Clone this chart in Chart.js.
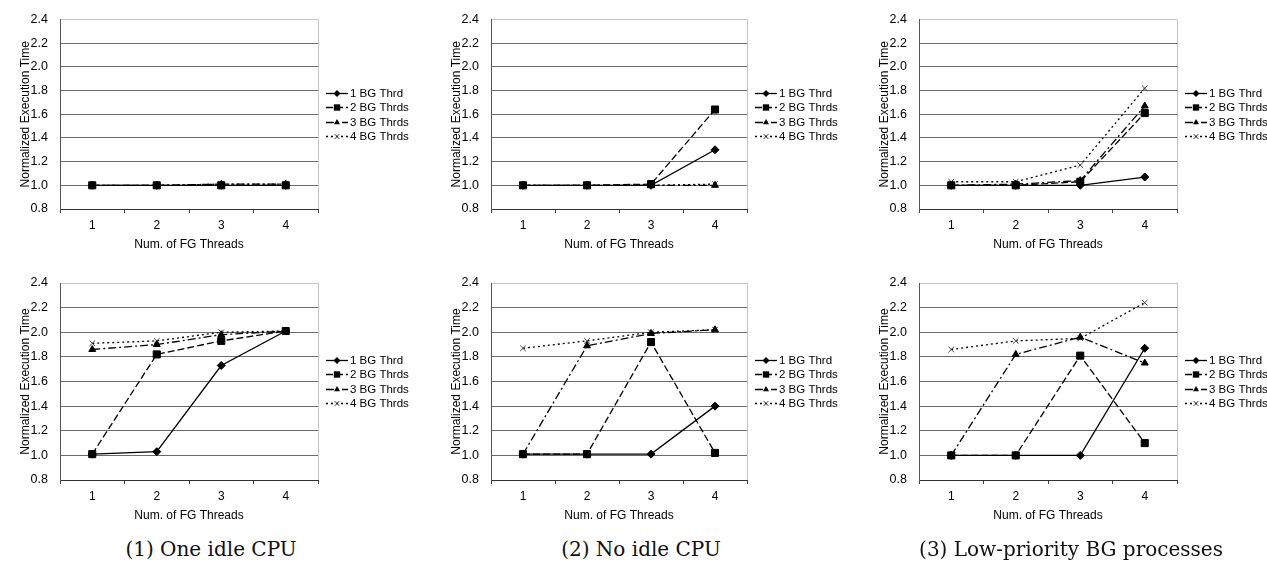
<!DOCTYPE html>
<html>
<head>
<meta charset="utf-8">
<script src="https://cdn.jsdelivr.net/npm/chart.js@4"></script>
<style>
  html, body { margin: 0; padding: 0; background: #fff; }
  body { width: 1267px; height: 565px; position: relative; overflow: hidden; }
  .box { position: absolute; width: 430px; }
  .cap { position: absolute; top: 537px; font-family: "DejaVu Serif", "Liberation Serif", serif;
         font-size: 20px; color: #111; white-space: nowrap; transform: translateX(-50%); }
</style>
</head>
<body>
<div class="box" style="left:0px;top:0px;height:255px"><canvas id="c1"></canvas></div>
<div class="box" style="left:431px;top:0px;height:255px"><canvas id="c2"></canvas></div>
<div class="box" style="left:859px;top:0px;height:255px"><canvas id="c3"></canvas></div>
<div class="box" style="left:0px;top:255px;height:275px"><canvas id="c4"></canvas></div>
<div class="box" style="left:431px;top:255px;height:275px"><canvas id="c5"></canvas></div>
<div class="box" style="left:859px;top:255px;height:275px"><canvas id="c6"></canvas></div>
<div class="cap" style="left:211px">(1) One idle CPU</div>
<div class="cap" style="left:641px">(2) No idle CPU</div>
<div class="cap" style="left:1071px">(3) Low-priority BG processes</div>
<script>
// x軸とy軸
const fgThreads = ['1', '2', '3', '4'];
const bgLabels = ['1 BG Thrd', '2 BG Thrds', '3 BG Thrds', '4 BG Thrds'];
const yMin = 0.8, yMax = 2.4, yStep = 0.2;

// 上段
const oneIdleTop = [
  [1.00, 1.00, 1.00, 1.00],
  [1.00, 1.00, 1.00, 1.00],
  [1.00, 1.00, 1.01, 1.01],
  [1.00, 1.00, 1.01, 1.01]
];
const noIdleTop = [
  [1.00, 1.00, 1.00, 1.30],
  [1.00, 1.00, 1.01, 1.64],
  [1.00, 1.00, 1.00, 1.00],
  [1.00, 1.00, 1.00, 1.01]
];
const lowPrioTop = [
  [1.00, 1.00, 1.00, 1.07],
  [1.00, 1.00, 1.03, 1.61],
  [1.00, 1.01, 1.04, 1.67],
  [1.03, 1.03, 1.17, 1.82]
];

// 下段
const oneIdleBottom = [
  [1.01, 1.03, 1.73, 2.01],
  [1.01, 1.82, 1.93, 2.01],
  [1.86, 1.90, 1.98, 2.01],
  [1.91, 1.93, 2.00, 2.01]
];
const noIdleBottom = [
  [1.01, 1.01, 1.01, 1.40],
  [1.01, 1.01, 1.92, 1.02],
  [1.01, 1.89, 1.99, 2.02],
  [1.87, 1.93, 2.00, 2.02]
];
const lowPrioBottom = [
  [1.00, 1.00, 1.00, 1.87],
  [1.00, 1.00, 1.81, 1.10],
  [1.00, 1.82, 1.96, 1.75],
  [1.86, 1.93, 1.95, 2.24]
];

// 線と点のスタイル
const lineStyles = [
  { dash: [], point: 'rectRot', radius: 4, color: '#000' },
  { dash: [7, 3], point: 'rect', radius: 5, color: '#000' },
  { dash: [8, 3, 2, 3], point: 'triangle', radius: 4, color: '#000' },
  { dash: [2, 3], point: 'crossRot', radius: 4, color: '#444' }
];

Chart.defaults.font.family = '"Liberation Sans", Arial, sans-serif';
Chart.defaults.font.size = 12;
Chart.defaults.color = '#000';

function drawMarker(ctx, style, x, y, r) {
  ctx.beginPath();
  if (style === 'rectRot') {
    ctx.moveTo(x, y - r); ctx.lineTo(x + r, y); ctx.lineTo(x, y + r); ctx.lineTo(x - r, y);
    ctx.closePath(); ctx.fill();
  } else if (style === 'rect') {
    const s = r * Math.SQRT1_2;
    ctx.rect(x - s, y - s, 2 * s, 2 * s); ctx.fill();
  } else if (style === 'triangle') {
    ctx.moveTo(x, y - r);
    ctx.lineTo(x + r * 0.866, y + r * 0.5);
    ctx.lineTo(x - r * 0.866, y + r * 0.5);
    ctx.closePath(); ctx.fill();
  } else {
    const s = r * Math.SQRT1_2;
    ctx.moveTo(x - s, y - s); ctx.lineTo(x + s, y + s);
    ctx.moveTo(x + s, y - s); ctx.lineTo(x - s, y + s);
    ctx.stroke();
  }
}

// 凡例と枠
const framePlugin = {
  id: 'frame',
  afterDraw(chart) {
    const ctx = chart.ctx;
    const a = chart.chartArea;
    ctx.save();
    ctx.strokeStyle = '#c4c4c4';
    ctx.lineWidth = 1;
    ctx.beginPath();
    ctx.moveTo(a.right + 0.5, a.top);
    ctx.lineTo(a.right + 0.5, a.bottom);
    ctx.stroke();

    const cy = (a.top + a.bottom) / 2;
    const x0 = a.right + 8;
    ctx.font = '11.5px "Liberation Sans", Arial, sans-serif';
    ctx.textBaseline = 'middle';
    chart.data.datasets.forEach((ds, i) => {
      const st = lineStyles[i];
      const y = Math.round(cy + (i - 1.5) * 14.5) + 0.5;
      ctx.strokeStyle = '#000';
      ctx.fillStyle = '#000';
      ctx.lineWidth = 1.3;
      ctx.setLineDash(st.dash);
      ctx.beginPath();
      ctx.moveTo(x0, y);
      ctx.lineTo(x0 + 22, y);
      ctx.stroke();
      ctx.setLineDash([]);
      ctx.strokeStyle = st.color;
      ctx.lineWidth = 1;
      drawMarker(ctx, st.point, x0 + 11, y, st.radius - 0.5);
      ctx.fillStyle = '#000';
      ctx.fillText(ds.label, x0 + 24, y);
    });
    ctx.restore();
  }
};

function makeChart(id, series, padTop, padBottom, plotWidth) {
  const datasets = series.map((vals, i) => ({
    label: bgLabels[i],
    data: vals,
    borderColor: '#000',
    borderWidth: 1.3,
    borderDash: lineStyles[i].dash,
    pointStyle: lineStyles[i].point,
    pointRadius: lineStyles[i].radius,
    pointBackgroundColor: '#000',
    pointBorderColor: lineStyles[i].color,
    pointBorderWidth: 1,
    tension: 0
  }));
  return new Chart(document.getElementById(id), {
    type: 'line',
    data: { labels: fgThreads, datasets: datasets },
    options: {
      responsive: true,
      maintainAspectRatio: false,
      animation: false,
      layout: { padding: { left: 10, right: 430 - 60 - plotWidth, top: padTop, bottom: padBottom } },
      plugins: { legend: { display: false }, tooltip: { enabled: false } },
      scales: {
        x: {
          offset: true,
          grid: { offset: true, drawOnChartArea: false, drawTicks: true, tickLength: 4, color: '#444' },
          border: { color: '#333', width: 1 },
          ticks: { padding: 5, font: { size: 12 } },
          title: { display: true, text: 'Num. of FG Threads', font: { size: 12 }, padding: { top: 0, bottom: 0 } },
          afterFit(s) { s.height = 43; }
        },
        y: {
          min: yMin,
          max: yMax,
          ticks: { stepSize: yStep, padding: 12, font: { size: 12.5 }, callback: v => v.toFixed(1) },
          grid: {
            drawTicks: false,
            color: c => (c.index === c.chart.scales.y.ticks.length - 1 ? '#c4c4c4' : '#6a6a6a')
          },
          border: { color: '#555', width: 1 },
          title: { display: true, text: 'Normalized Execution Time', font: { size: 12 }, padding: { top: 8, bottom: 0 } },
          afterFit(s) { s.width = 50; }
        }
      }
    },
    plugins: [framePlugin]
  });
}

makeChart('c1', oneIdleTop, 13, 255 - 209 - 43, 258);
makeChart('c2', noIdleTop, 13, 255 - 209 - 43, 256);
makeChart('c3', lowPrioTop, 13, 255 - 209 - 43, 258);
makeChart('c4', oneIdleBottom, 28, 275 - 225 - 43, 258);
makeChart('c5', noIdleBottom, 28, 275 - 225 - 43, 256);
makeChart('c6', lowPrioBottom, 28, 275 - 225 - 43, 258);
</script>
</body>
</html>
